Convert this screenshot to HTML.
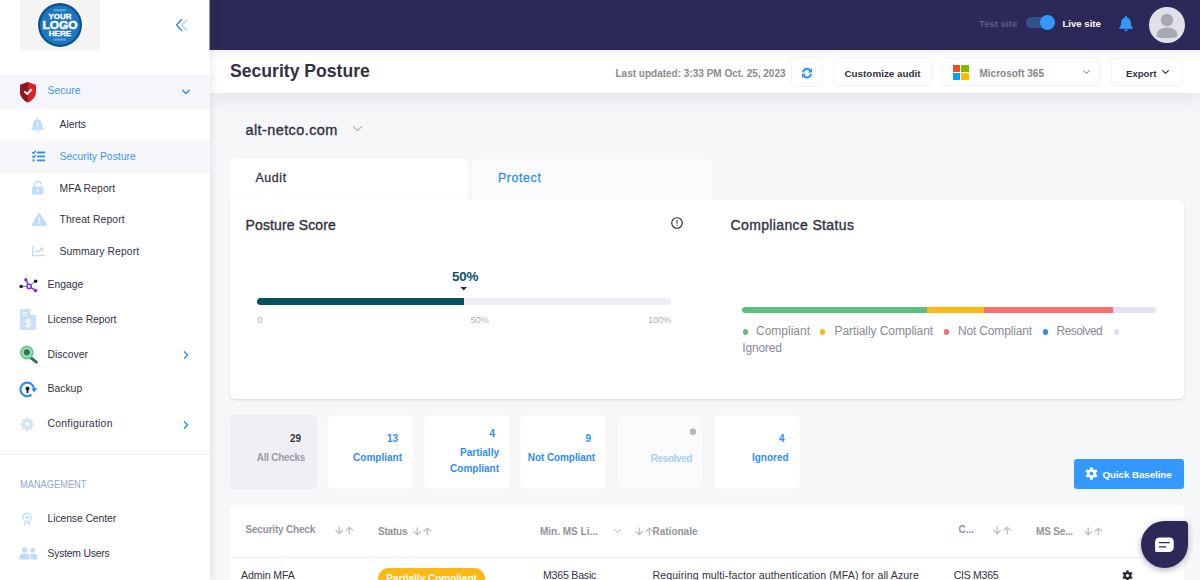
<!DOCTYPE html>
<html lang="en">
<head>
<meta charset="utf-8">
<title>Security Posture</title>
<style>
*{box-sizing:border-box;margin:0;padding:0}
html,body{width:1200px;height:580px;overflow:hidden;background:#f6f7f9;font-family:"Liberation Sans",sans-serif;color:#33313f}
.abs{position:absolute}
.t{position:absolute;white-space:nowrap;line-height:1}
#side{position:absolute;left:0;top:0;width:210px;height:580px;background:#fff;box-shadow:2px 0 8px rgba(60,60,90,.10);z-index:5}
#top{position:absolute;left:210px;top:0;width:990px;height:50px;background:#2c2958;z-index:4}
#sub{position:absolute;left:210px;top:50px;width:990px;height:43px;background:linear-gradient(#f6f6f9,#fff 11px);box-shadow:0 6px 18px rgba(70,70,100,.11);z-index:3}
.nav{position:absolute;left:0;width:210px}
.nav .lbl{position:absolute;font-size:11px;line-height:1;white-space:nowrap;color:#33313f}
.btn{position:absolute;background:#fff;border:1px solid #f2f2f8;border-radius:4px}
.card{position:absolute;background:#fff;border-radius:4px}
.fc{position:absolute;top:415px;height:73.5px;width:86px;background:#fff;border-radius:5px;border:1px solid #fbfbfd}
.fc .n,.fc .l{position:absolute;right:14px;margin-right:-1px;font-size:10px;font-weight:bold;color:#2f8df5;white-space:nowrap;line-height:1;text-align:right}
</style>
</head>
<body>
<!-- ============ SIDEBAR ============ -->
<div id="side">
  <!-- logo -->
  <div class="abs" style="left:20px;top:0;width:80px;height:51px;background:#f5f5f5"></div>
  <svg class="abs" style="left:36px;top:1px" width="48" height="48" viewBox="0 0 48 48">
    <circle cx="24" cy="24" r="22.6" fill="#fff"/>
    <circle cx="24" cy="24" r="22" fill="#0b4f8e"/>
    <circle cx="24" cy="24" r="19.8" fill="#1a76bf"/>
    <rect x="17.6" y="8" width="12.6" height="2.4" fill="#5d9fd6"/>
    <rect x="17.6" y="37.4" width="12.6" height="2.4" fill="#5d9fd6"/>
    <text x="24" y="18.2" text-anchor="middle" font-family="Liberation Sans" font-weight="bold" font-size="7.6" fill="#fff" stroke="#fff" stroke-width=".35" textLength="23" lengthAdjust="spacingAndGlyphs">YOUR</text>
    <text x="24" y="27.8" text-anchor="middle" font-family="Liberation Sans" font-weight="bold" font-size="11" fill="#fff" stroke="#fff" stroke-width=".5" textLength="35" lengthAdjust="spacingAndGlyphs">LOGO</text>
    <text x="24" y="35.4" text-anchor="middle" font-family="Liberation Sans" font-weight="bold" font-size="7.2" fill="#fff" stroke="#fff" stroke-width=".35" textLength="22.5" lengthAdjust="spacingAndGlyphs">HERE</text>
  </svg>
  <!-- collapse chevrons -->
  <svg class="abs" style="left:173.7px;top:17px" width="16" height="16" viewBox="0 0 16 16" fill="none" stroke-linecap="round" stroke-linejoin="round">
    <path d="M7.6 2.6 L2.6 8 L7.6 13.4" stroke="#2f8df5" stroke-width="1.5"/>
    <path d="M13 2.6 L8 8 L13 13.4" stroke="#a9cdfa" stroke-width="1.3"/>
  </svg>

  <!-- Secure (active group) -->
  <div class="nav" style="top:75px;height:34px;background:#f5f6fb"></div>
  <div class="nav" style="top:141px;height:32px;background:#f6f7fb"></div>
  <!-- shield -->
  <svg class="abs" style="left:19px;top:81px" width="18" height="22" viewBox="0 0 18 22">
    <path d="M9 1 L16.4 3.7 C16.8 3.85 17 4.1 17 4.5 V10.4 C17 15.6 13.4 19.4 9 21.4 C4.6 19.4 1 15.6 1 10.4 V4.5 C1 4.1 1.2 3.85 1.6 3.7 Z" fill="#dd2027"/>
    <path d="M9 1 L1.6 3.7 C1.2 3.85 1 4.1 1 4.5 V10.4 C1 15.6 4.6 19.4 9 21.4 Z" fill="#8c181b"/>
    <path d="M6 10.9 L8.2 13.1 L12.2 8.8" fill="none" stroke="#fff" stroke-width="2" stroke-linecap="round" stroke-linejoin="round"/>
  </svg>
  <div class="t" style="left:47.5px;top:86px;font-size:10.4px;color:#3d95f7">Secure</div>
  <svg class="abs" style="left:181px;top:88px" width="10" height="8" viewBox="0 0 10 8" fill="none"><path d="M1.6 2.2 L5 5.6 L8.4 2.2" stroke="#2f8df5" stroke-width="1.4" stroke-linecap="round" stroke-linejoin="round"/></svg>

  <!-- Alerts -->
  <svg class="abs" style="left:30px;top:117px" width="15" height="16" viewBox="0 0 15 16">
    <path d="M7.5 1 C7 1 6.6 1.4 6.6 1.9 V2.4 C4.4 2.9 3.1 4.7 3.1 7 C3.1 9.6 2.4 10.7 1.4 11.6 C1 12 1.2 12.8 1.9 12.8 H13.1 C13.8 12.8 14 12 13.6 11.6 C12.6 10.7 11.9 9.6 11.9 7 C11.9 4.7 10.6 2.9 8.4 2.4 V1.9 C8.4 1.4 8 1 7.5 1 Z M5.9 13.6 A1.6 1.6 0 0 0 9.1 13.6 Z" fill="#bfdcfc"/>
    <rect x="6.9" y="5" width="1.2" height="4" rx=".5" fill="#fff"/><circle cx="7.5" cy="10.6" r=".75" fill="#fff"/>
  </svg>
  <div class="t" style="left:59.5px;top:120px;font-size:10.4px">Alerts</div>

  <!-- Security Posture -->
  <svg class="abs" style="left:31px;top:150px" width="15" height="12" viewBox="0 0 15 12" fill="none" stroke="#2f8df5" stroke-linecap="round" stroke-linejoin="round">
    <path d="M6.7 2.5 H13.3 M6.7 6.4 H13.3 M6.7 10.4 H13.3" stroke-width="1.9"/>
    <path d="M1.5 2.4 L2.6 3.5 L4.4 1.3 M1.5 6.5 L2.6 7.6 L4.4 5.4" stroke-width="1.35"/>
    <circle cx="2.5" cy="10.4" r="1.15" fill="#2f8df5" stroke="none"/>
  </svg>
  <div class="t" style="left:59.5px;top:151.5px;font-size:10.4px;color:#3d95f7">Security Posture</div>

  <!-- MFA Report -->
  <svg class="abs" style="left:31.4px;top:180px" width="14" height="15" viewBox="0 0 14 15">
    <path d="M3.6 7 V4.6 C3.6 2.6 5 1.4 6.9 1.4 C8.5 1.4 9.7 2.2 10.1 3.6" fill="none" stroke="#bfdcfc" stroke-width="1.7" stroke-linecap="round"/>
    <rect x="1" y="6.6" width="11.6" height="7.8" rx="1.3" fill="#bfdcfc"/>
    <circle cx="6.8" cy="9.8" r="1.1" fill="#fff"/><rect x="6.3" y="10" width="1" height="2.4" fill="#fff"/>
  </svg>
  <div class="t" style="left:59.5px;top:183.5px;font-size:10.4px;letter-spacing:0.1px">MFA Report</div>

  <!-- Threat Report -->
  <svg class="abs" style="left:31px;top:212px" width="16.8" height="15" viewBox="0 0 16 15" preserveAspectRatio="none">
    <path d="M8 1 C8.5 1 8.9 1.3 9.1 1.7 L15 12 C15.5 12.9 14.9 14 13.9 14 H2.1 C1.1 14 .5 12.9 1 12 L6.9 1.7 C7.1 1.3 7.5 1 8 1 Z" fill="#bfdcfc"/>
    <rect x="7.3" y="5" width="1.4" height="4.6" rx=".6" fill="#fff"/><circle cx="8" cy="11.4" r=".9" fill="#fff"/>
  </svg>
  <div class="t" style="left:59.5px;top:215px;font-size:10.4px;letter-spacing:0.08px">Threat Report</div>

  <!-- Summary Report -->
  <svg class="abs" style="left:31px;top:245px" width="15" height="13" viewBox="0 0 15 13" fill="none" stroke="#bfdcfc" stroke-linecap="round" stroke-linejoin="round">
    <path d="M1.8 1.6 V10.6 H13.6" stroke-width="1.4"/>
    <path d="M4.2 7.4 L6.4 5.2 L8.2 6.8 L11.6 3.4 M9.4 3.2 H11.8 V5.6" stroke-width="1.2"/>
  </svg>
  <div class="t" style="left:59.5px;top:246.5px;font-size:10.4px;letter-spacing:0.08px">Summary Report</div>

  <!-- Engage -->
  <svg class="abs" style="left:18px;top:274px" width="20" height="20" viewBox="0 0 20 20">
    <g fill="none" stroke-linecap="round">
      <path d="M5 12.5 L8.2 12.45 M13.2 10.6 L16.2 8.4" stroke="#6f6d86" stroke-width=".9"/>
      <path d="M8 5.8 L10 10.2 M13.1 13.7 L17.4 16.4" stroke="#7b2ff2" stroke-width="1.5"/>
      <circle cx="11.1" cy="12.4" r="2.1" stroke="#7b2ff2" stroke-width="1.5"/>
    </g>
    <circle cx="7.9" cy="5.7" r="1.7" fill="#7b2ff2"/>
    <circle cx="17.6" cy="7.3" r="1.8" fill="#1d1b3a"/>
    <circle cx="3.2" cy="12.5" r="1.8" fill="#1d1b3a"/>
    <circle cx="17.6" cy="16.5" r="1.8" fill="#7b2ff2"/>
  </svg>
  <div class="t" style="left:47.5px;top:279.5px;font-size:10.4px">Engage</div>

  <!-- License Report -->
  <svg class="abs" style="left:20px;top:309px" width="16" height="21" viewBox="0 0 16 21">
    <path d="M1.2 0 H10 L16 6 V19.8 C16 20.5 15.5 21 14.8 21 H1.2 C.5 21 0 20.5 0 19.8 V1.2 C0 .5 .5 0 1.2 0 Z" fill="#c7dffb"/>
    <path d="M10 0 L16 6 H11.2 C10.5 6 10 5.5 10 4.8 Z" fill="#fff"/>
    <rect x="2.6" y="3.4" width="4.6" height="1.1" fill="#fff"/><rect x="2.6" y="6" width="4.6" height="1.1" fill="#fff"/>
    <text x="8" y="17.6" font-family="Liberation Sans" font-size="10" fill="#fff" stroke="#fff" stroke-width=".25" text-anchor="middle">$</text>
  </svg>
  <div class="t" style="left:47.5px;top:314.5px;font-size:10.4px;letter-spacing:-0.07px">License Report</div>

  <!-- Discover -->
  <svg class="abs" style="left:19px;top:345px" width="20" height="20" viewBox="0 0 20 20">
    <path d="M12 12.8 L17.4 17.2" stroke="#2b7048" stroke-width="2.8" stroke-linecap="round"/>
    <circle cx="7.8" cy="7.6" r="5.9" fill="#a4e2bd" stroke="#5fc98b" stroke-width="1.8"/>
    <circle cx="7.8" cy="7.3" r="3.1" fill="#2c7a4c"/>
  </svg>
  <div class="t" style="left:47.5px;top:349.5px;font-size:10.4px">Discover</div>
  <svg class="abs" style="left:182px;top:350px" width="8" height="10" viewBox="0 0 8 10" fill="none"><path d="M2.4 1.8 L5.6 5 L2.4 8.2" stroke="#2f8df5" stroke-width="1.4" stroke-linecap="round" stroke-linejoin="round"/></svg>

  <!-- Backup -->
  <svg class="abs" style="left:19px;top:380px" width="20" height="20" viewBox="0 0 20 20">
    <path d="M11.7 15.3 A6.8 6.8 0 1 1 15.05 8.6" fill="none" stroke="#2f8df5" stroke-width="2.2" stroke-linecap="round"/>
    <path d="M12 8.4 L18.2 8 L15.5 12.4 Z" fill="#2f8df5"/>
    <circle cx="8.5" cy="8.6" r="2" fill="#1d1b3a"/><rect x="7.6" y="9.4" width="1.8" height="3.8" rx=".4" fill="#1d1b3a"/>
  </svg>
  <div class="t" style="left:47.5px;top:384px;font-size:10.4px">Backup</div>

  <!-- Configuration -->
  <svg class="abs" style="left:19.6px;top:417px" width="14.6" height="14.6" viewBox="0 0 16 16">
    <g fill="#cfe3fb">
      <circle cx="8" cy="8" r="5.4"/>
      <g transform="rotate(0 8 8)"><rect x="6.5" y="0.6" width="3" height="3" rx="0.6"/><rect x="6.5" y="12.4" width="3" height="3" rx="0.6"/></g><g transform="rotate(45 8 8)"><rect x="6.5" y="0.6" width="3" height="3" rx="0.6"/><rect x="6.5" y="12.4" width="3" height="3" rx="0.6"/></g><g transform="rotate(90 8 8)"><rect x="6.5" y="0.6" width="3" height="3" rx="0.6"/><rect x="6.5" y="12.4" width="3" height="3" rx="0.6"/></g><g transform="rotate(135 8 8)"><rect x="6.5" y="0.6" width="3" height="3" rx="0.6"/><rect x="6.5" y="12.4" width="3" height="3" rx="0.6"/></g>
    </g>
    <circle cx="8" cy="8" r="2.5" fill="#fff"/>
  </svg>
  <div class="t" style="left:47.5px;top:418.5px;font-size:10.4px;letter-spacing:0.26px">Configuration</div>
  <svg class="abs" style="left:182px;top:420px" width="8" height="10" viewBox="0 0 8 10" fill="none"><path d="M2.4 1.8 L5.6 5 L2.4 8.2" stroke="#2f8df5" stroke-width="1.4" stroke-linecap="round" stroke-linejoin="round"/></svg>

  <!-- divider + management -->
  <div class="abs" style="left:0;top:454px;width:210px;height:1px;background:#ebebf2"></div>
  <div class="t" style="left:20px;top:480.2px;font-size:10.3px;color:#93a7d6;transform:scaleX(.9);transform-origin:0 0">MANAGEMENT</div>

  <svg class="abs" style="left:21px;top:511.6px" width="12" height="16" viewBox="0 0 12 16">
    <circle cx="6" cy="5.4" r="4.2" fill="none" stroke="#bfdcfc" stroke-width="1.3"/>
    <circle cx="6" cy="5.4" r="1.6" fill="#bfdcfc"/>
    <path d="M3.6 10 L2.6 13.6 L4.6 12.8 L5.2 10.6 M8.4 10 L9.4 13.6 L7.4 12.8 L6.8 10.6" fill="#bfdcfc"/>
  </svg>
  <div class="t" style="left:47.5px;top:513.5px;font-size:10.4px;letter-spacing:-0.1px">License Center</div>

  <svg class="abs" style="left:19px;top:547px" width="19" height="13" viewBox="0 0 19 13">
    <g fill="#bfdcfc">
      <circle cx="5.6" cy="3" r="2.8"/><path d="M.4 12.4 V10 C.4 7.8 2 6.6 4 6.6 H7.2 C9.2 6.6 10.8 7.8 10.8 10 V12.4 Z"/>
      <circle cx="13.6" cy="3.4" r="2.4"/><path d="M11.6 12.4 V9.6 C11.6 8.6 11.2 7.6 10.6 7 H15 C17 7 18.4 8.2 18.4 10 V12.4 Z"/>
    </g>
  </svg>
  <div class="t" style="left:47.5px;top:548.5px;font-size:10.4px;letter-spacing:-0.23px">System Users</div>
</div>

<div class="abs" style="left:209px;top:0;width:1px;height:50px;background:#9896ad;z-index:6"></div>
<!-- ============ TOP BAR ============ -->
<div id="top">
  <div class="t" style="left:769px;top:19px;font-size:9.6px;font-weight:bold;color:#5f5c87">Test site</div>
  <div class="abs" style="left:816px;top:17px;width:28px;height:11px;border-radius:6px;background:#33518f"></div>
  <div class="abs" style="left:829.5px;top:15px;width:15.4px;height:15.4px;border-radius:50%;background:#3399ff"></div>
  <div class="t" style="left:852.5px;top:19px;font-size:9.6px;font-weight:bold;color:#fff">Live site</div>
  <svg class="abs" style="left:908px;top:15px" width="16" height="17" viewBox="0 0 16 17">
    <path d="M8 1 C7.4 1 7 1.4 7 2 V2.5 C4.6 3 3.2 5 3.2 7.4 C3.2 10.2 2.4 11.4 1.4 12.4 C.9 12.9 1.2 13.8 2 13.8 H14 C14.8 13.8 15.1 12.9 14.6 12.4 C13.6 11.4 12.8 10.2 12.8 7.4 C12.8 5 11.4 3 9 2.5 V2 C9 1.4 8.6 1 8 1 Z M6.4 14.6 A1.6 1.6 0 0 0 9.6 14.6 Z" fill="#3399ff"/>
  </svg>
  <svg class="abs" style="left:939px;top:7px" width="36" height="36" viewBox="0 0 36 36">
    <defs><clipPath id="av"><circle cx="18" cy="18" r="18"/></clipPath></defs>
    <circle cx="18" cy="18" r="18" fill="#dfe0e8"/>
    <g clip-path="url(#av)" fill="#a8a8b3">
      <circle cx="18" cy="13" r="6.2"/>
      <path d="M7.4 29.6 C7.4 23.6 11.6 20.6 18 20.6 C24.4 20.6 28.6 23.6 28.6 29.6 C25 31.6 11 31.6 7.4 29.6 Z"/>
    </g>
  </svg>
</div>

<!-- ============ SUB HEADER ============ -->
<div id="sub">
  <div class="t" style="left:20px;top:12.8px;font-size:17.6px;font-weight:bold;color:#33313f">Security Posture</div>
  <div class="t" style="left:405.5px;top:19px;font-size:10px;font-weight:bold;color:#8b8b90">Last updated: 3:33 PM Oct. 25, 2023</div>
  <div class="btn" style="left:581px;top:7px;width:32px;height:30px"></div>
  <svg class="abs" style="left:591px;top:16.6px" width="12" height="12" viewBox="0 0 12 12">
    <g fill="none" stroke="#2f8df5" stroke-width="2" stroke-linecap="butt"><path d="M2 5.4 A4.1 4.1 0 0 1 9.3 3.5"/><path d="M10 6.9 A4.1 4.1 0 0 1 2.7 8.8"/></g>
    <path d="M11 1.3 V5.5 H6.8 Z M1 11 V6.8 H5.2 Z" fill="#2f8df5"/>
  </svg>
  <div class="btn" style="left:623px;top:8px;width:98.6px;height:28px"></div>
  <div class="t" style="left:634.5px;top:18.5px;font-size:9.85px;font-weight:bold;color:#33313f">Customize audit</div>
  <div class="btn" style="left:732px;top:8px;width:159px;height:28px"></div>
  <div class="abs" style="left:743px;top:14.5px;width:7.4px;height:7.4px;background:#f25022"></div>
  <div class="abs" style="left:751.4px;top:14.5px;width:7.4px;height:7.4px;background:#7fba00"></div>
  <div class="abs" style="left:743px;top:22.9px;width:7.4px;height:7.4px;background:#00a4ef"></div>
  <div class="abs" style="left:751.4px;top:22.9px;width:7.4px;height:7.4px;background:#ffb900"></div>
  <div class="t" style="left:769.5px;top:18.5px;font-size:10px;font-weight:bold;color:#86868c">Microsoft 365</div>
  <svg class="abs" style="left:872px;top:18.8px" width="9" height="7" viewBox="0 0 9 7" fill="none"><path d="M1.6 1.6 L4.5 4.4 L7.4 1.6" stroke="#a0a0a8" stroke-width="1.1" stroke-linecap="round" stroke-linejoin="round"/></svg>
  <div class="btn" style="left:901px;top:8px;width:72px;height:28px"></div>
  <div class="t" style="left:916px;top:18.5px;font-size:9.6px;font-weight:bold;color:#33313f">Export</div>
  <svg class="abs" style="left:951px;top:18.8px" width="9" height="7" viewBox="0 0 9 7" fill="none"><path d="M1.6 1.6 L4.5 4.4 L7.4 1.6" stroke="#33313f" stroke-width="1.2" stroke-linecap="round" stroke-linejoin="round"/></svg>
</div>


<!-- ============ MAIN ============ -->
<div id="main">
  <div class="t" style="left:245.5px;top:122.6px;font-size:14.5px;-webkit-text-stroke:.35px #33313f;letter-spacing:.4px;color:#33313f">alt-netco.com</div>
  <svg class="abs" style="left:352px;top:125px" width="11" height="8" viewBox="0 0 11 8" fill="none"><path d="M1.4 1.6 L5.5 5.6 L9.6 1.6" stroke="#b0b0b6" stroke-width="1.2" stroke-linecap="round" stroke-linejoin="round"/></svg>

  <!-- tabs -->
  <div class="abs" style="left:230px;top:159px;width:237.5px;height:44px;background:#fff;border-radius:5px 5px 0 0"></div>
  <div class="abs" style="left:473px;top:159px;width:237.5px;height:41px;background:#fafbfd;border-radius:5px 5px 0 0"></div>
  <div class="t" style="left:255.5px;top:171.5px;font-size:12.4px;-webkit-text-stroke:.3px #33313f;letter-spacing:.6px;color:#33313f">Audit</div>
  <div class="t" style="left:498px;top:171.5px;font-size:12.4px;-webkit-text-stroke:.3px #2f8df5;letter-spacing:.6px;color:#2f8df5">Protect</div>

  <!-- big card -->
  <div class="card" style="left:230px;top:199.5px;width:954px;height:199.5px;border-radius:0 5px 5px 5px;box-shadow:0 1px 2px rgba(80,80,110,.18)"></div>
  <div class="t" style="left:245.5px;top:218px;font-size:14px;-webkit-text-stroke:.35px #33313f;letter-spacing:.13px;color:#33313f">Posture Score</div>
  <svg class="abs" style="left:670px;top:216px" width="14" height="14" viewBox="0 0 14 14"><circle cx="7" cy="7" r="5.3" fill="none" stroke="#2a2a35" stroke-width="1.1"/><rect x="6.5" y="3.8" width="1" height="3.8" fill="#2a2a35"/><rect x="6.5" y="8.6" width="1" height="1.1" fill="#2a2a35"/></svg>
  <div class="t" style="left:452px;top:269.5px;font-size:13.4px;font-weight:bold;color:#0a5362;letter-spacing:-.2px">50%</div>
  <svg class="abs" style="left:460px;top:287px" width="8" height="4" viewBox="0 0 8 4"><path d="M.4 0 H7 L3.7 3.6 Z" fill="#2a2a35"/></svg>
  <div class="abs" style="left:257px;top:298px;width:414px;height:6.6px;border-radius:4px;background:#eeeef5"></div>
  <div class="abs" style="left:257px;top:298px;width:207.3px;height:6.6px;border-radius:4px 0 0 4px;background:#06505f"></div>
  <div class="t" style="left:257.5px;top:315px;font-size:9.4px;color:#b0b0b8">0</div>
  <div class="t" style="left:470.5px;top:315px;font-size:9.4px;color:#b0b0b8;letter-spacing:-.2px">50%</div>
  <div class="t" style="left:648px;top:315px;font-size:9.4px;color:#b0b0b8;letter-spacing:-.2px">100%</div>

  <div class="t" style="left:730.5px;top:218px;font-size:14px;-webkit-text-stroke:.35px #33313f;letter-spacing:.37px;color:#33313f">Compliance Status</div>
  <div class="abs" style="left:742px;top:306.5px;width:413.5px;height:6.2px;border-radius:4px;background:linear-gradient(90deg,#5fc07e 185.4px,#fdb913 185.4px,#fdb913 242.5px,#fa6e6e 242.5px,#fa6e6e 370.9px,#e3e3f0 370.9px)"></div>
  <div class="abs" style="left:742.6px;top:329.2px;width:5.4px;height:5.4px;border-radius:50%;background:#5fc07e"></div>
  <div class="t" style="left:756px;top:325px;font-size:12px;color:#8a8a92">Compliant</div>
  <div class="abs" style="left:820.1px;top:329.2px;width:5.4px;height:5.4px;border-radius:50%;background:#fdb913"></div>
  <div class="t" style="left:834.5px;top:325px;font-size:12px;color:#8a8a92;letter-spacing:-.08px">Partially Compliant</div>
  <div class="abs" style="left:943.9px;top:329.2px;width:5.4px;height:5.4px;border-radius:50%;background:#fa6e6e"></div>
  <div class="t" style="left:958px;top:325px;font-size:12px;color:#8a8a92;letter-spacing:-.17px">Not Compliant</div>
  <div class="abs" style="left:1042.7px;top:329.2px;width:5.4px;height:5.4px;border-radius:50%;background:#2f8df5"></div>
  <div class="t" style="left:1056.5px;top:325px;font-size:12px;color:#8a8a92;letter-spacing:-.55px">Resolved</div>
  <div class="abs" style="left:1113.7px;top:329.2px;width:5.4px;height:5.4px;border-radius:50%;background:#dfdfee"></div>
  <div class="t" style="left:742.3px;top:341.5px;font-size:12px;color:#8a8a92;letter-spacing:-.16px">Ignored</div>

  <!-- filter cards -->
  <div class="fc" style="left:230px;width:87px;height:74px;background:#eeeff5;border-color:#eeeff5"><div class="n" style="top:18px;right:15px;margin-right:0;color:#33313f">29</div><div class="l" style="top:36.5px;right:11px;margin-right:0;color:#9b9ba3;letter-spacing:-.3px">All Checks</div></div>
  <div class="fc" style="left:327px"><div class="n" style="top:18px;right:15px">13</div><div class="l" style="top:36.5px;right:11px">Compliant</div></div>
  <div class="fc" style="left:424px"><div class="n" style="top:13px;right:15px">4</div><div class="l" style="top:32px;right:11px">Partially</div><div class="l" style="top:48px;right:11px">Compliant</div></div>
  <div class="fc" style="left:520px"><div class="n" style="top:18px;right:15px">9</div><div class="l" style="top:36.5px;right:11px;letter-spacing:-.09px">Not Compliant</div></div>
  <div class="fc" style="left:617px;background:#fafbfd;border-color:#f7f8fb"><svg class="abs" style="left:70px;top:11px" width="10" height="10" viewBox="0 0 10 10"><circle cx="4.9" cy="4.7" r="3.2" fill="#b6b6ba"/></svg><div class="l" style="top:37.5px;right:11px;color:#a9cdf9;letter-spacing:-.4px">Resolved</div></div>
  <div class="fc" style="left:713.6px"><div class="n" style="top:18px;right:15px">4</div><div class="l" style="top:36.5px;right:11px">Ignored</div></div>

  <!-- quick baseline -->
  <div class="abs" style="left:1074px;top:458.8px;width:110px;height:30px;border-radius:3px;background:#3399ff"></div>
  <svg class="abs" style="left:1085px;top:467px" width="13" height="13" viewBox="0 0 16 16">
    <g fill="#fff"><circle cx="8" cy="8" r="5.6"/>
      <g transform="rotate(0 8 8)"><rect x="6.3" y="0.4" width="3.4" height="3.4" rx="0.7"/><rect x="6.3" y="12.2" width="3.4" height="3.4" rx="0.7"/></g><g transform="rotate(60 8 8)"><rect x="6.3" y="0.4" width="3.4" height="3.4" rx="0.7"/><rect x="6.3" y="12.2" width="3.4" height="3.4" rx="0.7"/></g><g transform="rotate(120 8 8)"><rect x="6.3" y="0.4" width="3.4" height="3.4" rx="0.7"/><rect x="6.3" y="12.2" width="3.4" height="3.4" rx="0.7"/></g></g>
    <circle cx="8" cy="8" r="2.3" fill="#3399ff"/>
  </svg>
  <div class="t" style="left:1102.5px;top:469.5px;font-size:9.8px;font-weight:bold;color:#fff;letter-spacing:-.08px">Quick Baseline</div>

  <!-- table -->
  <div class="card" style="left:230px;top:504.5px;width:954px;height:90px;border-radius:5px"></div>
  <div class="abs" style="left:230px;top:556.6px;width:954px;height:1px;background:#efeff4"></div>
  <div class="t" style="left:245.5px;top:525px;font-size:10px;font-weight:bold;color:#939399;letter-spacing:-.19px">Security Check</div>
  <svg class="abs" style="left:334.5px;top:526px" width="19" height="9" viewBox="0 0 19 9" fill="none" stroke="#bdbdc3" stroke-width="1.3" stroke-linecap="round" stroke-linejoin="round"><path d="M4.2 1 V7.6 M.9 4.4 L4.2 7.7 L7.5 4.4 M14.3 7.8 V1.2 M11 4.4 L14.3 1.1 L17.6 4.4"/></svg>
  <div class="t" style="left:378px;top:527px;font-size:10px;font-weight:bold;color:#939399;letter-spacing:-.2px">Status</div>
  <svg class="abs" style="left:413px;top:527px" width="19" height="9" viewBox="0 0 19 9" fill="none" stroke="#bdbdc3" stroke-width="1.3" stroke-linecap="round" stroke-linejoin="round"><path d="M4.2 1 V7.6 M.9 4.4 L4.2 7.7 L7.5 4.4 M14.3 7.8 V1.2 M11 4.4 L14.3 1.1 L17.6 4.4"/></svg>
  <div class="t" style="left:540px;top:527px;font-size:10px;font-weight:bold;color:#939399">Min. MS Li...</div>
  <svg class="abs" style="left:613px;top:528px" width="9" height="7" viewBox="0 0 9 7" fill="none"><path d="M1.6 1.6 L4.5 4.4 L7.4 1.6" stroke="#b4b4ba" stroke-width="1" stroke-linecap="round" stroke-linejoin="round"/></svg>
  <svg class="abs" style="left:635px;top:527px" width="19" height="9" viewBox="0 0 19 9" fill="none" stroke="#bdbdc3" stroke-width="1.3" stroke-linecap="round" stroke-linejoin="round"><path d="M4.2 1 V7.6 M.9 4.4 L4.2 7.7 L7.5 4.4 M14.3 7.8 V1.2 M11 4.4 L14.3 1.1 L17.6 4.4"/></svg>
  <div class="t" style="left:652.5px;top:527px;font-size:10px;font-weight:bold;color:#939399">Rationale</div>
  <div class="t" style="left:958.5px;top:525px;font-size:10px;font-weight:bold;color:#939399">C...</div>
  <svg class="abs" style="left:992.5px;top:526px" width="19" height="9" viewBox="0 0 19 9" fill="none" stroke="#bdbdc3" stroke-width="1.3" stroke-linecap="round" stroke-linejoin="round"><path d="M4.2 1 V7.6 M.9 4.4 L4.2 7.7 L7.5 4.4 M14.3 7.8 V1.2 M11 4.4 L14.3 1.1 L17.6 4.4"/></svg>
  <div class="t" style="left:1036px;top:527px;font-size:10px;font-weight:bold;color:#939399;letter-spacing:-.2px">MS Se...</div>
  <svg class="abs" style="left:1084px;top:527px" width="19" height="9" viewBox="0 0 19 9" fill="none" stroke="#bdbdc3" stroke-width="1.3" stroke-linecap="round" stroke-linejoin="round"><path d="M4.2 1 V7.6 M.9 4.4 L4.2 7.7 L7.5 4.4 M14.3 7.8 V1.2 M11 4.4 L14.3 1.1 L17.6 4.4"/></svg>

  <div class="t" style="left:241px;top:570px;font-size:10.6px;color:#33313f;letter-spacing:-.12px">Admin MFA</div>
  <div class="abs" style="left:377.5px;top:568.2px;width:107.5px;height:22px;border-radius:11px;background:#fdb913"></div>
  <div class="t" style="left:386.3px;top:573.5px;font-size:10px;font-weight:bold;color:#fff">Partially Compliant</div>
  <div class="t" style="left:543px;top:570px;font-size:10.6px;color:#33313f;letter-spacing:-.22px">M365 Basic</div>
  <div class="t" style="left:652.5px;top:570px;font-size:10.6px;color:#33313f;letter-spacing:.11px">Requiring multi-factor authentication (MFA) for all Azure</div>
  <div class="t" style="left:953.7px;top:570px;font-size:10.6px;color:#33313f;letter-spacing:-.3px">CIS M365</div>
  <svg class="abs" style="left:1122px;top:569.5px" width="11" height="11" viewBox="0 0 16 16">
    <g fill="#2a2a35"><circle cx="8" cy="8" r="5.6"/>
      <g transform="rotate(0 8 8)"><rect x="6.3" y="0.4" width="3.4" height="3.4" rx="0.7"/><rect x="6.3" y="12.2" width="3.4" height="3.4" rx="0.7"/></g><g transform="rotate(60 8 8)"><rect x="6.3" y="0.4" width="3.4" height="3.4" rx="0.7"/><rect x="6.3" y="12.2" width="3.4" height="3.4" rx="0.7"/></g><g transform="rotate(120 8 8)"><rect x="6.3" y="0.4" width="3.4" height="3.4" rx="0.7"/><rect x="6.3" y="12.2" width="3.4" height="3.4" rx="0.7"/></g></g>
    <circle cx="8" cy="8" r="2.3" fill="#fff"/>
  </svg>

  <!-- chat bubble -->
  <div class="abs" style="left:1140.5px;top:520.8px;width:47.5px;height:47.5px;border-radius:24px 4px 24px 24px;background:#2c2858;box-shadow:0 2px 6px rgba(30,30,60,.35);z-index:9"></div>
  <svg class="abs" style="left:1154px;top:536px;z-index:10" width="21" height="18" viewBox="0 0 21 18">
    <path d="M5.4 1.6 H15.8 C18 1.6 19.7 3.2 19.7 5.4 V11.6 C19.7 14.2 17.8 16 15.2 16 H2.6 C1.7 16 1.1 15.4 1.1 14.5 V5.8 C1.1 3.4 2.9 1.6 5.4 1.6 Z" fill="#fff"/>
    <path d="M5.2 6.6 H15.4 M5.2 10.8 H11.8" stroke="#2c2858" stroke-width="1.2" stroke-linecap="round"/>
  </svg>
</div>
</body>
</html>
